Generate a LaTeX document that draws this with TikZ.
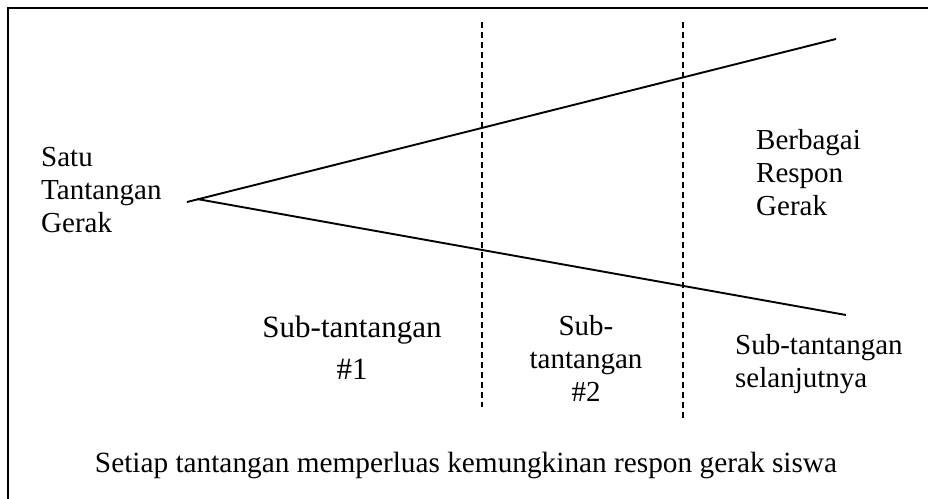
\documentclass[tikz,border=0pt]{standalone}
\usepackage{fontspec}
\setmainfont{Liberation Serif}
\begin{document}
\begin{tikzpicture}[x=1pt,y=-1pt,
  lbl/.style={inner sep=0pt, font=\fontsize{29}{33}\selectfont},
  biglbl/.style={inner sep=0pt, font=\fontsize{31}{42}\selectfont},
  captionlbl/.style={inner sep=0pt, font=\fontsize{29.3}{33}\selectfont},
  frame/.style={line width=2pt},
  ray/.style={line width=1.9pt},
  divider/.style={line width=1.4pt, dash pattern=on 6pt off 4pt}]
\useasboundingbox (0,0) rectangle (928,498);
\clip (0,0) rectangle (928,498);
\draw[frame] (8,540) -- (8,8) -- (960,8);
% texts
\node[lbl, align=left, anchor=north west] (satu) at (41,147) {Satu\\Tantangan\\Gerak};
\node[lbl, align=left, anchor=north west] (berbagai) at (756,129) {Berbagai\\Respon\\Gerak};
\node[biglbl, align=center, anchor=north] (sub1) at (352,316) {Sub-tantangan\\\#1};
\node[lbl, align=center, anchor=north] (sub2) at (586,315) {Sub-\\tantangan\\\#2};
\node[lbl, align=left, anchor=north west] (subn) at (735,334) {Sub-tantangan\\selanjutnya};
\node[captionlbl, anchor=base] (caption) at (466,472) {Setiap tantangan memperluas kemungkinan respon gerak siswa};
% rays
\coordinate (apexU) at (187,202);
\coordinate (apexL) at (197,199);
\coordinate (endU) at (836,39);
\coordinate (endL) at (846,315);
\draw[ray] (apexU) -- (endU);
\draw[ray] (apexL) -- (endL);
% dividers
\coordinate (d1t) at (482,22);
\coordinate (d1b) at (482,407);
\coordinate (d2t) at (683,22);
\coordinate (d2b) at (683,420);
\draw[divider] (d1t) -- (d1b);
\draw[divider] (d2t) -- (d2b);
\end{tikzpicture}
\end{document}
